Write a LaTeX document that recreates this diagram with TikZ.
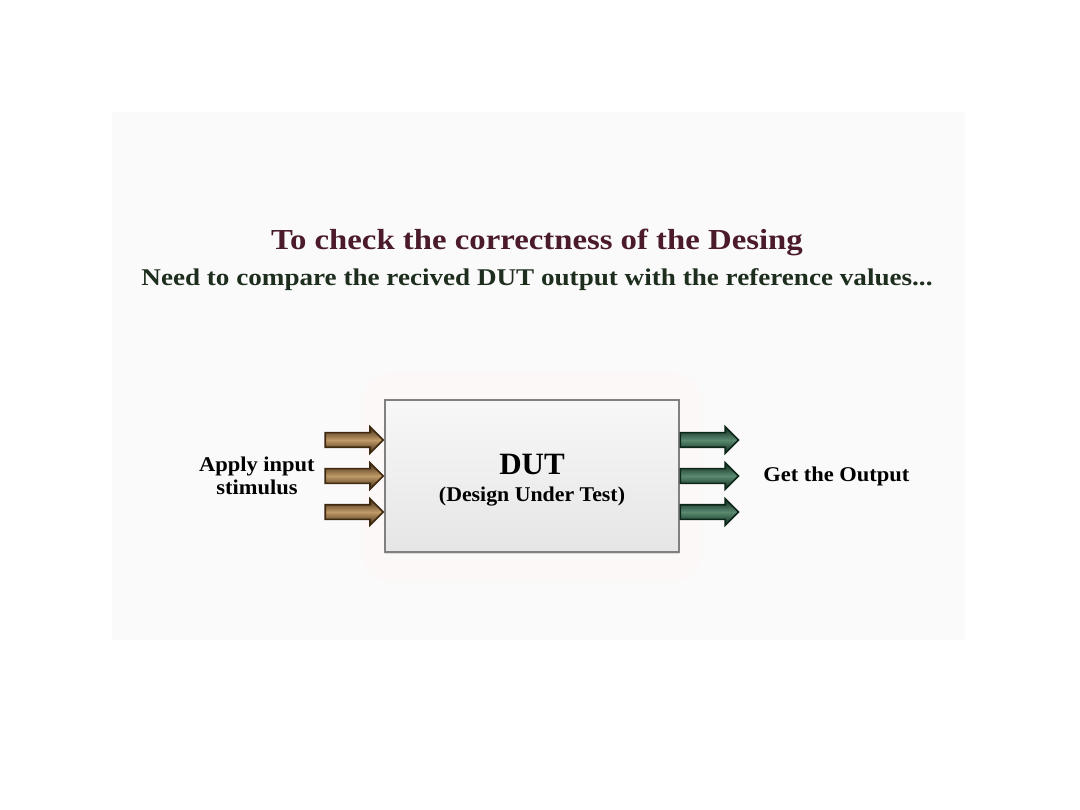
\documentclass[tikz,border=0pt]{standalone}
\usepackage{fontspec}
\setmainfont{Liberation Serif}
\usetikzlibrary{positioning,shapes.arrows,shadows}

\definecolor{titlered}{HTML}{4B1A2B}
\definecolor{subgreen}{HTML}{1E2E1E}
\definecolor{brdark}{HTML}{3E2810}
\definecolor{brlight}{HTML}{C09A68}
\definecolor{grdark}{HTML}{0C2618}
\definecolor{grlight}{HTML}{5A8A70}

\tikzset{
  dutbox/.style={draw=black!50, line width=1.2pt, top color=black!3, bottom color=black!10,
    minimum width=294pt, minimum height=152pt,
    drop shadow={shadow xshift=0pt, shadow yshift=-2pt, opacity=0.25}},
  inarrow/.style={single arrow, single arrow head extend=6pt, inner xsep=0pt, inner ysep=6.5pt,
    minimum height=58pt, minimum width=25pt, anchor=tip, line width=1.6pt,
    draw=brdark, top color=brdark, bottom color=brdark, middle color=brlight},
  outarrow/.style={single arrow, single arrow head extend=6pt, inner xsep=0pt, inner ysep=6.5pt,
    minimum height=58pt, minimum width=25pt, anchor=tail, line width=1.6pt,
    draw=grdark, top color=grdark, bottom color=grdark, middle color=grlight},
  lbl/.style={font=\bfseries\fontsize{21}{23}\selectfont, align=center, xscale=1.07}
}

\begin{document}
\begin{tikzpicture}[x=1pt,y=-1pt]
\useasboundingbox[fill=white] (0,0) rectangle (1080,810);
% panel
\fill[black!2] (112,112) rectangle (965,640);
\fill[red!3, opacity=0.4, rounded corners=30pt] (362,372) rectangle (702,582);

% headings
\node[font=\bfseries\fontsize{29}{32}\selectfont, text=titlered, xscale=1.13] (title) at (537,242)
  {To check the correctness of the Desing};
\node[font=\bfseries\fontsize{24}{27}\selectfont, text=subgreen, xscale=1.13] (subtitle) at (537,280)
  {Need to compare the recived DUT output with the reference values...};

% design under test
\node[dutbox] (dut) at (532,476) {};
\node[font=\bfseries\fontsize{31}{34}\selectfont] (dutname) at ([yshift=12pt]dut.center) {DUT};
\node[font=\bfseries\fontsize{21}{23}\selectfont, xscale=1.04] (dutfull) at ([yshift=-21pt]dut.center)
  {(Design Under Test)};

\foreach \i/\dy in {1/36,2/0,3/-36} {
  \node[inarrow] (in\i) at ([yshift=\dy pt]dut.west) {};
  \node[outarrow] (out\i) at ([yshift=\dy pt]dut.east) {};
}

\node[lbl, left=6pt of in2.tail] (apply) {Apply input\\stimulus};
\node[lbl, right=20pt of out2.tip] (getout) {Get the Output};
\end{tikzpicture}
\end{document}
